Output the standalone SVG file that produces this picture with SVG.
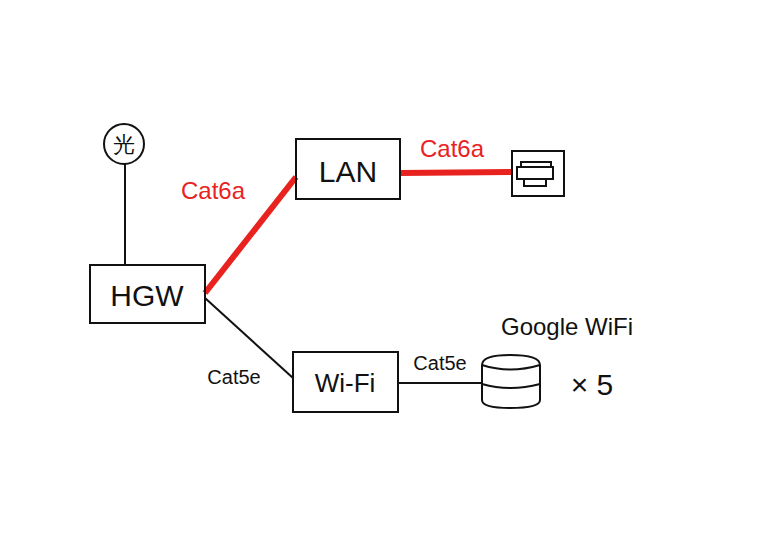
<svg xmlns="http://www.w3.org/2000/svg" width="768" height="533" viewBox="0 0 768 533">
<style>
.b{fill:none;stroke:#111;stroke-width:2}
.t{font-family:"Liberation Sans",sans-serif;fill:#111}
.r{fill:#e8231f;font-family:"Liberation Sans",sans-serif}
</style>
<rect width="768" height="533" fill="#fff"/>
<g id="connectors">
<line x1="125" y1="163" x2="125" y2="265" class="b" stroke-width="1.5"/>
<line x1="205" y1="293" x2="296" y2="177" stroke="#e8231f" stroke-width="6"/>
<line x1="400" y1="173" x2="512" y2="172" stroke="#e8231f" stroke-width="6"/>
<line x1="205" y1="298" x2="293" y2="378" class="b" stroke-width="1.5"/>
<line x1="398" y1="383" x2="482" y2="383" class="b" stroke-width="1.5"/>
</g>
<g id="hikari"><circle cx="124" cy="144" r="20" class="b"/><text x="124" y="152" font-size="22" text-anchor="middle" class="t" font-family="Noto Sans CJK JP,sans-serif">光</text></g>
<g id="hgw"><rect x="90" y="265" width="115" height="58" class="b"/><text x="147" y="306" font-size="30" text-anchor="middle" class="t">HGW</text></g>
<g id="lan"><rect x="296" y="139" width="104" height="60" class="b"/><text x="348" y="182" font-size="30" text-anchor="middle" class="t">LAN</text></g>
<g id="printer"><rect x="512" y="151" width="52" height="45" class="b"/>
<rect x="521" y="162" width="30" height="5" class="b" stroke-width="1.5"/>
<rect x="517" y="167" width="36" height="12" class="b" stroke-width="1.5"/>
<rect x="524" y="179" width="22" height="7" class="b" stroke-width="1.5"/></g>
<g id="wifi"><rect x="293" y="352" width="105" height="60" class="b"/><text x="345" y="392" font-size="26" text-anchor="middle" class="t">Wi-Fi</text></g>
<g id="gwifi"><path d="M482 365 Q482 355 510 355 Q540 355 540 365 L540 400 Q540 408 510 408 Q482 408 482 400 Z" class="b"/><path d="M482 365 Q510 374 540 365 M482 384 Q510 392 540 384" class="b"/>
<text x="567" y="335" font-size="24" text-anchor="middle" class="t">Google WiFi</text>
<text x="592" y="395" font-size="30" text-anchor="middle" class="t">× 5</text></g>
<text x="213" y="199" font-size="24" text-anchor="middle" class="r">Cat6a</text>
<text x="452" y="157" font-size="24" text-anchor="middle" class="r">Cat6a</text>
<text x="234" y="384" font-size="20" text-anchor="middle" class="t">Cat5e</text>
<text x="440" y="370" font-size="20" text-anchor="middle" class="t">Cat5e</text>
</svg>
